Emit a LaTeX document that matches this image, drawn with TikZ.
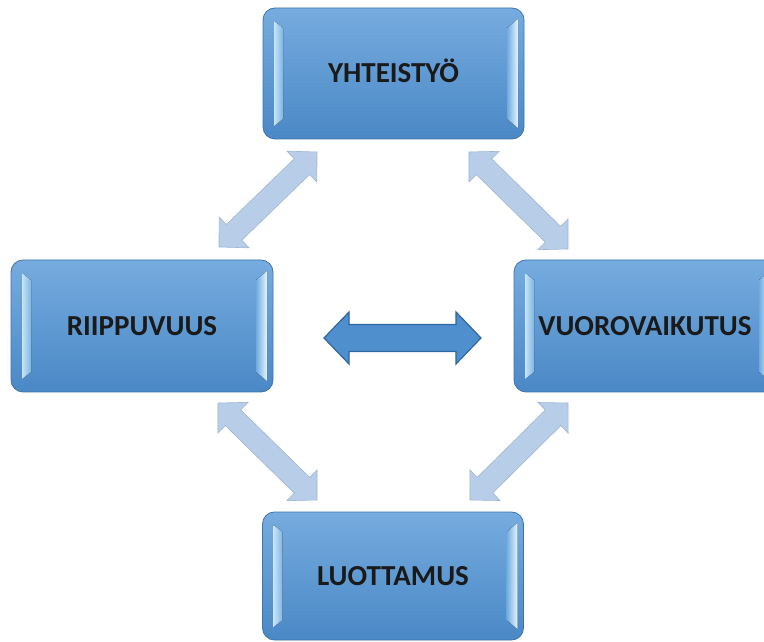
\documentclass[tikz,border=0pt]{standalone}
\usepackage{fontspec}
\setmainfont{Carlito}
\usetikzlibrary{calc}
\definecolor{boxtop}{HTML}{76ACDF}
\definecolor{boxbot}{HTML}{4A88C6}
\definecolor{boxedge}{HTML}{3F74AA}
\definecolor{bevlo}{HTML}{C8E4F7}
\definecolor{bevli}{HTML}{7DB5E4}
\definecolor{bevro}{HTML}{E6F5FC}
\definecolor{bevri}{HTML}{6FABDF}
\definecolor{txt}{HTML}{1A1A1A}
\definecolor{diagfill}{HTML}{B8CDE8}
\definecolor{diagedge}{HTML}{9DB5D6}
\definecolor{midfill}{HTML}{4F8FCD}
\definecolor{midedge}{HTML}{2F67A0}
\newcommand\blockarrow[6]{%
  \coordinate (ba1) at ($(#1)!#5!(#2)$);
  \coordinate (bb1) at ($(#2)!#5!(#1)$);
  \path[#6] (#1) -- ($(ba1)!#4!90:(#2)$) -- ($(ba1)!#3!90:(#2)$)
    -- ($(bb1)!#3!-90:(#1)$) -- ($(bb1)!#4!-90:(#1)$) -- (#2)
    -- ($(bb1)!#4!90:(#1)$) -- ($(bb1)!#3!90:(#1)$)
    -- ($(ba1)!#3!-90:(#2)$) -- ($(ba1)!#4!-90:(#2)$) -- cycle;}
\tikzset{
  bevbox/.style={rounded corners=12pt, minimum width=261pt, minimum height=131pt,
    draw=boxedge, line width=0.8pt, top color=boxtop, bottom color=boxbot,
    text=txt, font=\fontsize{29}{34}\selectfont\bfseries,
    text height=18.5pt, text depth=0pt, inner sep=0pt,
    path picture={
      \coordinate (pnw) at (path picture bounding box.north west);
      \coordinate (pse) at (path picture bounding box.south east);
      \fill[sharp corners, left color=bevlo, right color=bevli]
        ($(pnw)+(11,-13)$) -- ($(pnw)+(20,-20)$) -- ($(pnw|-pse)+(20,20)$) -- ($(pnw|-pse)+(11,13)$) -- cycle;
      \fill[sharp corners, left color=bevri, right color=bevro]
        ($(pse|-pnw)+(-17,-20)$) -- ($(pse|-pnw)+(-6,-11)$) -- ($(pse)+(-6,11)$) -- ($(pse)+(-17,20)$) -- cycle;
    }},
  diagarrow/.style={fill=diagfill, draw=diagedge, line width=0.6pt, line join=miter},
  midarrow/.style={fill=midfill, draw=midedge, line width=1.2pt, line join=miter}
}
\begin{document}
\begin{tikzpicture}[x=1pt,y=1pt]
\useasboundingbox (0,0) rectangle (764,641);
\clip (0,0) rectangle (764,641);
\node[bevbox] (yht) at (393.5,567.5) {YHTEISTYÖ};
\node[bevbox, minimum width=262pt, minimum height=132pt] (rii) at (142,315) {RIIPPUVUUS};
\node[bevbox, minimum width=262pt, minimum height=132pt] (vuo) at (645,315) {VUOROVAIKUTUS};
\node[bevbox, minimum height=128pt] (luo) at (393,65) {LUOTTAMUS};
% arrow tips
\coordinate (tlA) at (219,394); \coordinate (tlB) at (317,489);
\coordinate (trA) at (469,489); \coordinate (trB) at (568,392);
\coordinate (blA) at (218,238); \coordinate (blB) at (317,141);
\coordinate (brA) at (568,238); \coordinate (brB) at (470,141);
\coordinate (mA) at (324,303); \coordinate (mB) at (481,303);
\blockarrow{tlA}{tlB}{11pt}{21.5pt}{21pt}{diagarrow}
\blockarrow{trA}{trB}{11pt}{21.5pt}{21pt}{diagarrow}
\blockarrow{blA}{blB}{11pt}{21.5pt}{21pt}{diagarrow}
\blockarrow{brA}{brB}{11pt}{21.5pt}{21pt}{diagarrow}
\blockarrow{mA}{mB}{13.5pt}{26pt}{25pt}{midarrow}
\end{tikzpicture}
\end{document}
